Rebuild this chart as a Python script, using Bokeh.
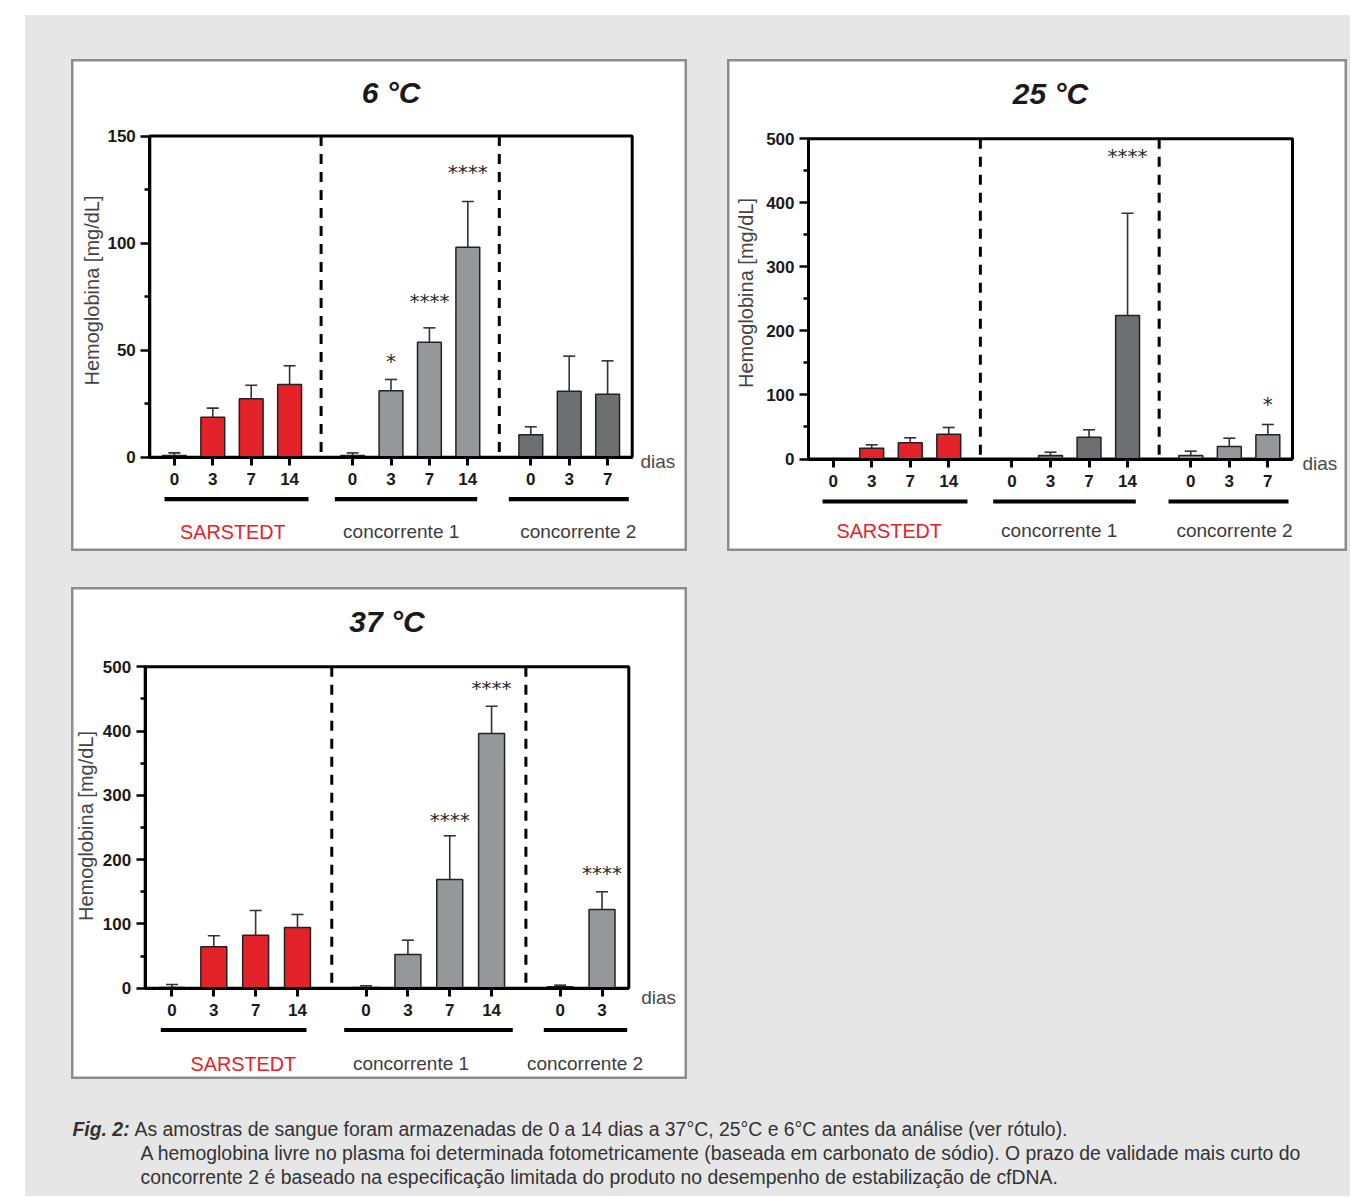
import math
from bokeh.plotting import figure
from bokeh.models import Range1d, FixedTicker, Label, LinearAxis, Spacer
from bokeh.layouts import column, row
from bokeh.embed import file_html
from bokeh.resources import INLINE
from bokeh.core.properties import value

# ---------------- data ----------------
group_names = ["SARSTEDT", "concorrente 1", "concorrente 2"]
days_sarstedt = ["0", "3", "7", "14"]
days_conc1 = ["0", "3", "7", "14"]
days_conc2_6 = ["0", "3", "7"]
days_conc2_25 = ["0", "3", "7"]
days_conc2_37 = ["0", "3"]

# 6 °C : mean and upper SD
mean6_sarstedt = [0.8, 18.7, 27.3, 34.0]
sd6_sarstedt = [1.2, 4.2, 6.3, 8.7]
mean6_conc1 = [0.8, 31.0, 53.7, 98.1]
sd6_conc1 = [1.2, 5.3, 6.7, 21.3]
mean6_conc2 = [10.5, 30.8, 29.4]
sd6_conc2 = [3.7, 16.4, 15.6]
stars6_group = [1, 1, 1]
stars6_index = [1, 2, 3]
stars6_text = ["*", "****", "****"]
stars6_y = [46.0, 74.0, 134.0]

# 25 °C
mean25_sarstedt = [0.5, 16.9, 25.3, 38.7]
sd25_sarstedt = [0.0, 5.3, 7.8, 10.5]
mean25_conc1 = [0.5, 5.5, 34.0, 224.1]
sd25_conc1 = [0.0, 5.1, 11.6, 159.7]
mean25_conc2 = [5.5, 19.5, 37.8]
sd25_conc2 = [6.7, 13.0, 16.1]
stars25_group = [1, 2]
stars25_index = [3, 2]
stars25_text = ["****", "*"]
stars25_y = [476.6, 88.7]

# 37 °C
mean37_sarstedt = [1.0, 64.4, 82.5, 94.4]
sd37_sarstedt = [4.8, 17.1, 38.4, 20.3]
mean37_conc1 = [1.0, 52.4, 169.1, 396.2]
sd37_conc1 = [2.7, 22.3, 68.0, 42.5]
mean37_conc2 = [2.2, 122.4]
sd37_conc2 = [2.5, 27.6]
stars37_group = [1, 1, 2]
stars37_index = [2, 3, 1]
stars37_text = ["****", "****", "****"]
stars37_y = [265.0, 470.4, 182.0]

caption_lead = "Fig. 2:"
caption_lines = [
    "As amostras de sangue foram armazenadas de 0 a 14 dias a 37°C, 25°C e 6°C antes da análise (ver rótulo).",
    "A hemoglobina livre no plasma foi determinada fotometricamente (baseada em carbonato de sódio). O prazo de validade mais curto do",
    "concorrente 2 é baseado na especificação limitada do produto no desempenho de estabilização de cfDNA.",
]

# ---------------- styles ----------------
BG = "#e6e6e7"
RED = "#e42229"
LIGHT = "#96979b"
DARK = "#6e6f72"
FONT = "Liberation Sans"
INK = "#1a1a1a"
SOFT = "#3c3c3c"


def make_panel(title, ymax, yticks, yminor, series, fills, days_list, stars, g):
    ox, oy = g["origin"]
    W, H = g["size"]
    fl, ft, fr, fb = g["frame"]          # page pixels of the plotting box
    gap = 0.64
    offs = []
    o = 0.0
    for d in days_list:
        offs.append(o)
        o += len(d) + gap
    xmin = -gap
    xmax = offs[-1] + len(days_list[-1]) - 1 + gap
    ux = (fr - fl) / (xmax - xmin)
    uy = (fb - ft) / ymax

    def X(px):
        return xmin + (px - fl) / ux

    def Y(py):
        return (fb - py) / uy

    p = figure(width=W, height=H, x_range=Range1d(X(ox), X(ox + W)),
               y_range=Range1d(Y(oy + H), Y(oy)), output_backend="svg",
               toolbar_location=None, min_border=0,
               x_axis_location=None, y_axis_location=None)
    p.grid.visible = False
    p.xgrid.visible = False
    p.ygrid.visible = False
    p.background_fill_color = "white"
    p.border_fill_color = "white"
    p.outline_line_color = "#8d8d8d"
    p.outline_line_width = 4

    # plotting box (top / right edges; left / bottom are the axes)
    p.quad(left=[xmin], right=[xmax], bottom=[0], top=[ymax], fill_color=None,
           line_color="black", line_width=3)

    # dividers between brands
    divs = []
    for k in range(1, len(days_list)):
        last_prev = offs[k - 1] + len(days_list[k - 1]) - 1
        divs.append((last_prev + offs[k]) / 2)
    p.segment(x0=divs, y0=[ymax] * len(divs), x1=divs, y1=[0] * len(divs),
              line_color="black", line_width=3, line_dash="10 8")

    cap = 6.0 / ux
    all_x, all_lab = [], []
    for gi, (means, sds) in enumerate(series):
        xs = [offs[gi] + i for i in range(len(means))]
        all_x += xs
        all_lab += days_list[gi]
        tops = [m + s for m, s in zip(means, sds)]
        p.segment(x0=xs, y0=means, x1=xs, y1=tops, line_color="#333333",
                  line_width=1.6)
        p.segment(x0=[x - cap for x in xs], y0=tops,
                  x1=[x + cap for x in xs], y1=tops,
                  line_color="#333333", line_width=1.6)
        p.vbar(x=xs, top=means, bottom=0, width=0.62, fill_color=fills[gi],
               line_color="#222222", line_width=1.5)

    sg, si, st, sy = stars
    sx = [offs[a] + b for a, b in zip(sg, si)]
    p.text(x=sx, y=sy, text=st, text_font=value("DejaVu Sans"),
           text_font_size="20px", text_align="center",
           text_baseline="middle", text_color="#2a2a2a", y_offset=2)

    # axes drawn at the plotting box edges
    yax = LinearAxis(fixed_location=xmin, bounds=(0, ymax),
                     ticker=FixedTicker(ticks=yticks, minor_ticks=yminor))
    yax.axis_line_width = 3
    yax.axis_line_color = "black"
    yax.major_tick_line_width = 2.5
    yax.major_tick_out = 9
    yax.major_tick_in = 0
    yax.minor_tick_line_width = 2.5
    yax.minor_tick_out = 5
    yax.minor_tick_in = 0
    yax.major_label_text_font = FONT
    yax.major_label_text_font_size = "17px"
    yax.major_label_text_font_style = "bold"
    yax.major_label_text_color = INK
    yax.major_label_standoff = 5
    p.add_layout(yax, "left")

    xax = LinearAxis(fixed_location=0, bounds=(xmin, xmax),
                     ticker=FixedTicker(ticks=all_x))
    xax.major_label_overrides = {x: lab for x, lab in zip(all_x, all_lab)}
    xax.axis_line_width = 3
    xax.axis_line_color = "black"
    xax.major_tick_line_width = 3
    xax.major_tick_out = 8
    xax.major_tick_in = 0
    xax.minor_tick_line_color = None
    xax.major_label_text_font = FONT
    xax.major_label_text_font_size = "17px"
    xax.major_label_text_font_style = "bold"
    xax.major_label_text_color = INK
    xax.major_label_standoff = 8
    p.add_layout(xax, "below")

    # y title
    lx, ly = g["ylab"]
    p.add_layout(Label(x=X(lx), y=Y(ly), text="Hemoglobina [mg/dL]",
                       angle=math.pi / 2, text_align="center",
                       text_baseline="middle", text_font=FONT,
                       text_font_size="20px", text_color="#444444"))
    # title
    tx, ty = g["title"]
    p.add_layout(Label(x=X(tx), y=Y(ty), text=title, text_align="center",
                       text_baseline="middle", text_font=FONT,
                       text_font_size="30px", text_font_style="bold italic",
                       text_color=INK))
    # dias
    dx, dy = g["dias"]
    p.add_layout(Label(x=X(dx), y=Y(dy), text="dias", text_align="left",
                       text_baseline="middle", text_font=FONT,
                       text_font_size="19px", text_color="#4a4a4a"))
    # brand underlines and names
    uyc = g["under_y"]
    ua = [X(a) for a, b in g["under"]]
    ub = [X(b) for a, b in g["under"]]
    p.segment(x0=ua, y0=[Y(uyc)] * 3, x1=ub, y1=[Y(uyc)] * 3,
              line_color="black", line_width=4.2, line_cap="butt")
    for gi, cx in enumerate(g["names_x"]):
        p.add_layout(Label(x=X(cx), y=Y(g["names_y"]), text=group_names[gi],
                           text_align="center", text_baseline="middle",
                           text_font=FONT,
                           text_font_size="19.8px" if gi == 0 else "19px",
                           text_color=RED if gi == 0 else SOFT))
    return p


g6 = dict(origin=(71, 59), size=(616, 492), frame=(149.3, 135.5, 631.7, 456.7),
          ylab=(91, 290), title=(390.5, 91.7), dias=(640, 461),
          under_y=498.7, under=[(164, 308), (334.3, 476.7), (508.3, 628.3)],
          names_x=[232.3, 400.7, 577.8], names_y=531)
g25 = dict(origin=(727, 59), size=(620, 492), frame=(808, 138.3, 1292, 458.5),
           ylab=(745, 292.5), title=(1050, 92.5), dias=(1302, 462.7),
           under_y=501, under=[(822, 967), (992.7, 1135.3), (1168, 1288)],
           names_x=[888.7, 1058.7, 1234], names_y=530)
g37 = dict(origin=(71, 587), size=(616, 492), frame=(144.7, 666.3, 628.3, 987.7),
           ylab=(85, 825.5), title=(386.5, 621), dias=(640.7, 997.3),
           under_y=1029.5, under=[(160.3, 306), (343.7, 512.3), (543.3, 626.7)],
           names_x=[242.8, 410.5, 584.5], names_y=1063)

p6 = make_panel("6 °C", 150, [0, 50, 100, 150], [25, 75, 125],
                [(mean6_sarstedt, sd6_sarstedt), (mean6_conc1, sd6_conc1),
                 (mean6_conc2, sd6_conc2)],
                [RED, LIGHT, DARK], [days_sarstedt, days_conc1, days_conc2_6],
                (stars6_group, stars6_index, stars6_text, stars6_y), g6)
p25 = make_panel("25 °C", 500, [0, 100, 200, 300, 400, 500],
                 [50, 150, 250, 350, 450],
                 [(mean25_sarstedt, sd25_sarstedt), (mean25_conc1, sd25_conc1),
                  (mean25_conc2, sd25_conc2)],
                 [RED, DARK, LIGHT], [days_sarstedt, days_conc1, days_conc2_25],
                 (stars25_group, stars25_index, stars25_text, stars25_y), g25)
p37 = make_panel("37 °C", 500, [0, 100, 200, 300, 400, 500],
                 [50, 150, 250, 350, 450],
                 [(mean37_sarstedt, sd37_sarstedt), (mean37_conc1, sd37_conc1),
                  (mean37_conc2, sd37_conc2)],
                 [RED, LIGHT, LIGHT], [days_sarstedt, days_conc1, days_conc2_37],
                 (stars37_group, stars37_index, stars37_text, stars37_y), g37)

# caption (page y of its top = 1079, page x of its left = 25)
CW, CH = 1325, 117
cap = figure(width=CW, height=CH, x_range=Range1d(0, CW), y_range=Range1d(CH, 0),
             output_backend="svg", toolbar_location=None, min_border=0,
             x_axis_location=None, y_axis_location=None)
cap.grid.visible = False
cap.background_fill_color = BG
cap.border_fill_color = BG
cap.outline_line_color = None
cap.add_layout(Label(x=72 - 25, y=1128 - 1079, text=caption_lead, text_font=FONT,
                     text_font_size="19.4px", text_font_style="bold italic",
                     text_color="#333333", text_baseline="alphabetic"))
cap_pos = [(134, 1128), (140, 1152), (140, 1176)]
for (cx, cy), line in zip(cap_pos, caption_lines):
    cap.add_layout(Label(x=cx - 25, y=cy - 1079, text=line, text_font=FONT,
                         text_font_size="19.4px", text_color="#333333",
                         text_baseline="alphabetic"))

inner = column(
    Spacer(width=CW, height=44),
    row(Spacer(width=46, height=492), p6, Spacer(width=40, height=492), p25,
        Spacer(width=3, height=492)),
    Spacer(width=CW, height=36),
    row(Spacer(width=46, height=492), p37),
    cap,
    styles={"background-color": BG},
)
page = column(Spacer(width=1350, height=15), row(Spacer(width=25, height=10), inner))

open("out.html", "w").write(file_html(page, INLINE))
